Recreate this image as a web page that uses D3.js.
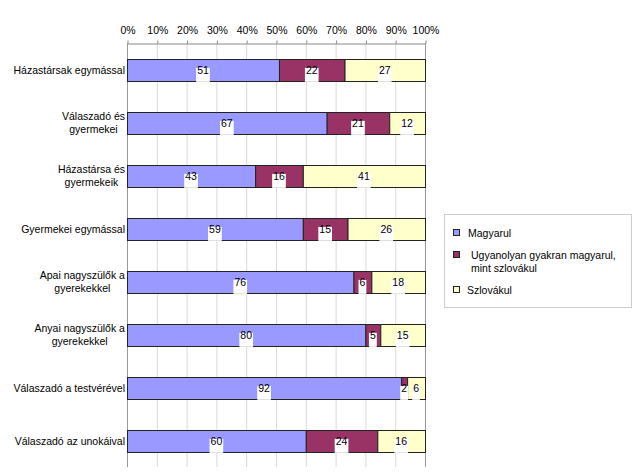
<!DOCTYPE html>
<html><head><meta charset="utf-8">
<script src="https://cdn.jsdelivr.net/npm/d3@7"></script>
<style>body{margin:0;background:#fff}svg{display:block;font-family:"Liberation Sans",Arial,sans-serif}</style>
</head><body><svg id="c" width="640" height="472"></svg>
<script>
const categories = [
  ["Házastársak egymással"],
  ["Válaszadó és", "gyermekei"],
  ["Házastársa és", "gyermekeik"],
  ["Gyermekei egymással"],
  ["Apai nagyszülők a", "gyerekekkel"],
  ["Anyai nagyszülők a", "gyerekekkel"],
  ["Válaszadó a testvérével"],
  ["Válaszadó az unokáival"]
];
const seriesNames = ["Magyarul", "Ugyanolyan gyakran magyarul, mint szlovákul", "Szlovákul"];
const legendLines = [["Magyarul"], ["Ugyanolyan gyakran magyarul,", "mint szlovákul"], ["Szlovákul"]];
const magyarul = [51, 67, 43, 59, 76, 80, 92, 60];
const mindketto = [22, 21, 16, 15, 6, 5, 2, 24];
const szlovakul = [27, 12, 41, 26, 18, 15, 6, 16];
const tickValues = [0, 10, 20, 30, 40, 50, 60, 70, 80, 90, 100];
const colors = ["#9999FF", "#993366", "#FFFFCC"];

const FS = 10.5;
const svg = d3.select("#c");
const pL = 127, pR = 425, pT = 43, pB = 467;
const x = d3.scaleLinear().domain([0, 100]).range([pL, pR]);
const y = d3.scaleBand().domain(d3.range(categories.length)).range([pT, pB]).paddingInner(0.59).paddingOuter(0.295);

// gridlines
svg.append("g").selectAll("line").data(tickValues.slice(1)).join("line")
  .attr("x1", d => x(d) + 0.5).attr("x2", d => x(d) + 0.5)
  .attr("y1", pT).attr("y2", pB)
  .attr("stroke", d => d === 100 ? "#999" : "#d9d9d9").attr("stroke-width", 1);

// top axis
const ax = svg.append("g").attr("transform", `translate(0.5,${pT + 0.5})`)
  .call(d3.axisTop(x).tickValues(tickValues).tickFormat(d => d + "%").tickSize(3).tickSizeOuter(0));
ax.select(".domain").attr("stroke", "#888");
ax.selectAll(".tick line").attr("stroke", "#888");
ax.selectAll(".tick text").attr("font-size", FS).attr("fill", "#000").attr("font-family", "Liberation Sans, Arial, sans-serif").attr("dy", "-0.35em");

// left axis line
svg.append("line").attr("x1", pL + 0.5).attr("x2", pL + 0.5).attr("y1", pT).attr("y2", pB).attr("stroke", "#999");

// stacked data
const series = [magyarul, mindketto, szlovakul];
const stack = d3.stack().keys([0, 1, 2]).value((d, k) => series[k][d]);
const stacked = stack(d3.range(categories.length));

const bars = svg.append("g");
stacked.forEach((s, si) => {
  bars.selectAll(null).data(s).join("rect")
    .attr("x", d => x(d[0]) + 0.5)
    .attr("y", (d, i) => Math.round(y(i)) + 0.5)
    .attr("width", d => x(d[1]) - x(d[0]))
    .attr("height", Math.round(y.bandwidth()))
    .attr("fill", colors[si]).attr("stroke", "#222").attr("stroke-width", 1);
});

// value labels
const labels = svg.append("g").attr("font-size", FS);
stacked.forEach((s, si) => {
  s.forEach((d, i) => {
    const cx = (x(d[0]) + x(d[1])) / 2;
    const cy = Math.round(y(i)) + y.bandwidth() / 2;
    const t = labels.append("text").attr("x", cx).attr("y", cy + 4).attr("text-anchor", "middle").text(series[si][i]);
    const w = t.node().getComputedTextLength();
    labels.insert("rect", () => t.node()).attr("x", cx - w / 2 - 1).attr("y", cy - 2).attr("width", w + 2).attr("height", 14).attr("fill", "#fff");
  });
});

// category labels
const cat = svg.append("g").attr("font-size", FS);
categories.forEach((lines, i) => {
  const cy = y(i) + y.bandwidth() / 2;
  const g = cat.append("text").attr("text-anchor", "middle");
  lines.forEach((l, k) => g.append("tspan").attr("x", 0).attr("y", cy + 4 + (k - (lines.length - 1) / 2) * 13.5).text(l));
  const bw = g.node().getBBox().width;
  g.attr("transform", `translate(${125 - bw / 2},0)`);
});

// legend
const lg = svg.append("g");
lg.append("rect").attr("x", 444.5).attr("y", 214.5).attr("width", 187).attr("height", 93).attr("fill", "#fff").attr("stroke", "#ccc");
const itemY = [233, 255, 290];
const textX = [468, 471, 467];
legendLines.forEach((lines, i) => {
  lg.append("rect").attr("x", 453.5).attr("y", itemY[i] - 3.5).attr("width", 6).attr("height", 6).attr("fill", colors[i]).attr("stroke", "#222");
  const t = lg.append("text").attr("font-size", FS);
  lines.forEach((l, k) => t.append("tspan").attr("x", textX[i]).attr("y", itemY[i] + 4 + k * 13).text(l));
});
</script></body></html>
